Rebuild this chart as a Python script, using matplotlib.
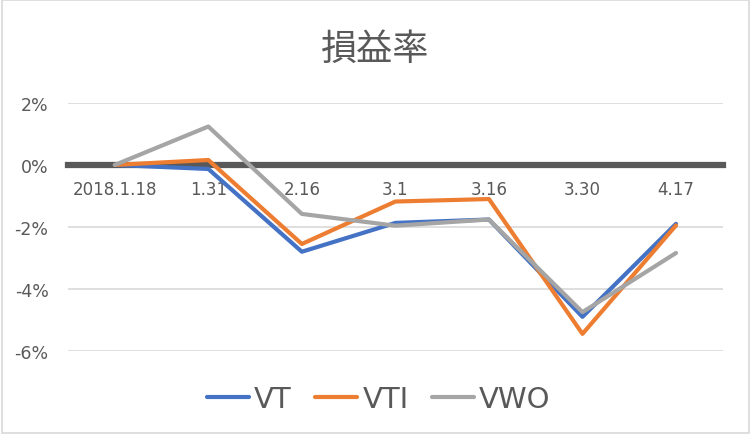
import matplotlib.pyplot as plt
from matplotlib.patches import Rectangle

plt.rcParams['font.family'] = ['DejaVu Sans', 'Noto Sans CJK JP']

dates = ['2018.1.18', '1.31', '2.16', '3.1', '3.16', '3.30', '4.17']
vt = [0.0, -0.13, -2.8, -1.87, -1.76, -4.9, -1.9]
vti = [0.0, 0.16, -2.55, -1.18, -1.1, -5.45, -1.95]
vwo = [0.0, 1.24, -1.58, -1.96, -1.76, -4.75, -2.84]
yticks = [2, 0, -2, -4, -6]

txt = '#595959'
fig = plt.figure(figsize=(7.5, 4.35), dpi=100)
fig.patches.append(Rectangle((0.002, 0.003), 0.996, 0.994, transform=fig.transFigure,
                             fill=False, edgecolor='#d9d9d9', linewidth=1.2))
ax = fig.add_axes([0.0907, 0.191, 0.873, 0.570])

x = range(len(dates))
ax.plot(x, vt, color='#4472C4', lw=3, label='VT', solid_capstyle='round', zorder=3)
ax.plot(x, vti, color='#ED7D31', lw=3, label='VTI', solid_capstyle='round', zorder=3)
ax.plot(x, vwo, color='#A5A5A5', lw=3, label='VWO', solid_capstyle='round', zorder=3)

ax.set_xlim(-0.5, len(dates) - 0.5)
ax.set_ylim(-6, 2)
ax.set_yticks(yticks)
ax.set_yticklabels([f'{v}%' for v in yticks])
ax.grid(axis='y', color='#d9d9d9', lw=1.2)
ax.set_axisbelow(True)

for s in ['top', 'right', 'left']:
    ax.spines[s].set_visible(False)
ax.spines['bottom'].set_position(('data', 0))
ax.spines['bottom'].set_color(txt)
ax.spines['bottom'].set_linewidth(4.5)
ax.spines['bottom'].set_zorder(2)

ax.set_xticks(list(x))
ax.set_xticklabels(dates)
ax.tick_params(axis='x', length=0, pad=11, labelsize=12, labelcolor=txt)
ax.tick_params(axis='y', length=0, pad=14, labelsize=12.5, labelcolor=txt)

fig.text(0.5, 0.885, '損益率', ha='center', va='center', fontsize=26, color=txt,
         family=['Noto Sans CJK JP'])
fig.legend(loc='center', bbox_to_anchor=(0.505, 0.08), ncol=3, frameon=False,
           fontsize=21, labelcolor=txt, handlelength=1.45, handletextpad=0.17,
           columnspacing=0.8)

fig.savefig('out.png', dpi=100)
